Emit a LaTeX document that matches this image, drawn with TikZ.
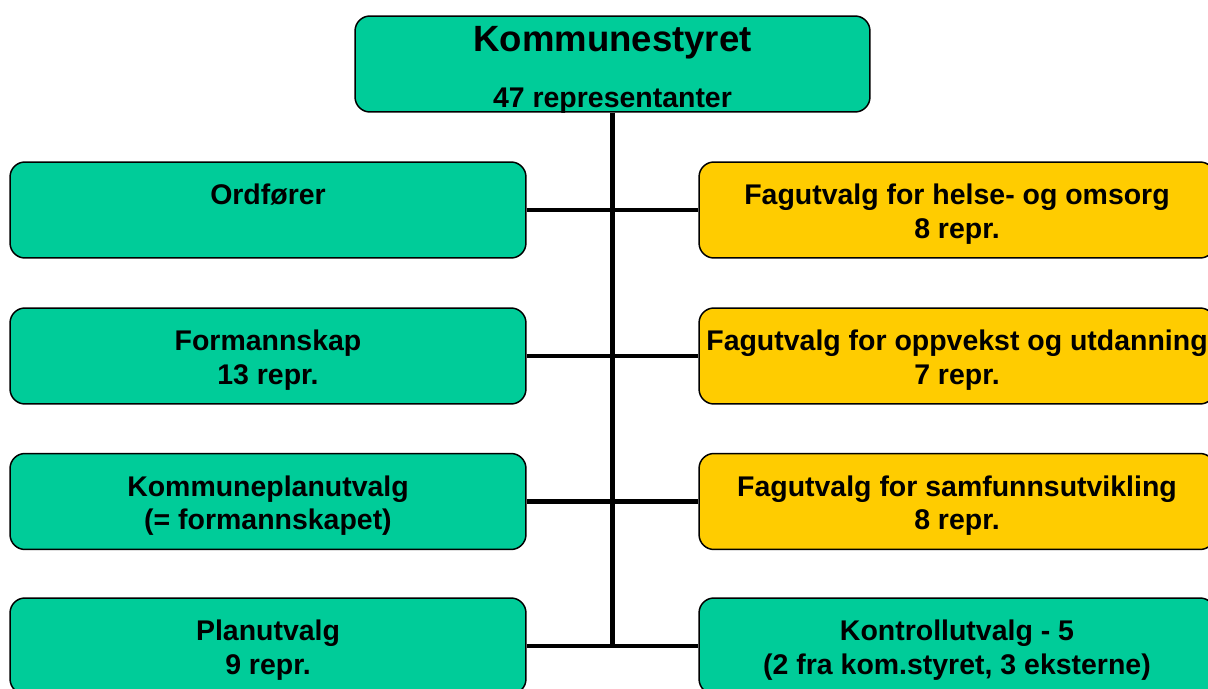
\documentclass[tikz,border=0pt]{standalone}
\usepackage{fontspec}
\setmainfont{Liberation Sans}
\definecolor{boardgreen}{HTML}{00CC99}
\definecolor{boardyellow}{HTML}{FFCC00}

\begin{document}
\begin{tikzpicture}[x=0.02cm, y=-0.02cm,
  unit/.style={draw=black, line width=0.85pt, rounded corners=8.5pt,
    minimum width=10.32cm, minimum height=1.92cm, inner sep=0pt, align=center,
    text height=36.4pt, text depth=4pt,
    font=\fontsize{16.2}{19.3}\selectfont\bfseries},
  council/.style={unit, fill=boardgreen},
  committee/.style={unit, fill=boardyellow},
  link/.style={line width=2.3pt}]
  \useasboundingbox (0,0) rectangle (1208,689);

  % Top box
  \node[council, minimum width=10.3cm, text height=, text depth=] (ks) at (612.5,64) {};
  \node[anchor=base, font=\fontsize{20.8}{25}\selectfont\bfseries] (ksname)
    at ([yshift=-0.72cm]ks.north) {Kommunestyret};
  \node[anchor=base, font=\fontsize{16.2}{19.3}\selectfont\bfseries] (ksrep)
    at ([yshift=0.1cm]ks.south) {47 representanter};

  % Left column
  \node[council] (ord)  at (268,210)   {Ordfører\\\strut};
  \node[council] (form) at (268,356)   {Formannskap\\13 repr.};
  \node[council] (kpu)  at (268,501.5) {Kommuneplanutvalg\\(= formannskapet)};
  \node[council] (plan) at (268,646)   {Planutvalg\\9 repr.};

  % Right column
  \node[committee] (helse)    at (957,210)   {Fagutvalg for helse- og omsorg\\8 repr.};
  \node[committee] (oppvekst) at (957,356)   {Fagutvalg for oppvekst og utdanning\\7 repr.};
  \node[committee] (samf)     at (957,501.5) {Fagutvalg for samfunnsutvikling\\8 repr.};
  \node[council]   (kontroll) at (957,646)   {Kontrollutvalg - 5\\(2 fra kom.styret, 3 eksterne)};

  % Connectors
  \draw[link] (ks.south) -- (ks.south |- plan.east);
  \draw[link] (ord.east)  -- (helse.west);
  \draw[link] (form.east) -- (oppvekst.west);
  \draw[link] (kpu.east)  -- (samf.west);
  \draw[link] (plan.east) -- (kontroll.west);
\end{tikzpicture}
\end{document}
